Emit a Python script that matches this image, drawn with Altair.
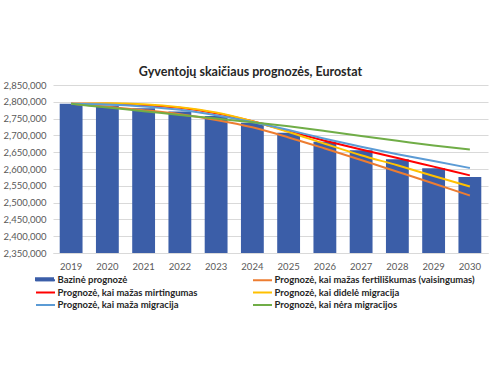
import altair as alt
import pandas as pd

years = [2019, 2020, 2021, 2022, 2023, 2024, 2025, 2026, 2027, 2028, 2029, 2030]

base = [2794000, 2789000, 2781000, 2771000, 2758000, 2738000, 2708000, 2681000, 2656000, 2629000, 2602000, 2576000]
low_fertility = [2794000, 2785000, 2775000, 2763000, 2746000, 2724000, 2694000, 2661000, 2627000, 2592000, 2557000, 2521000]
low_mortality = [2794000, 2794000, 2790000, 2782000, 2766000, 2742000, 2712000, 2684000, 2658000, 2633000, 2607000, 2581000]
high_migration = [2794000, 2796000, 2793000, 2784000, 2768000, 2742000, 2710000, 2675000, 2641000, 2611000, 2579000, 2548000]
low_migration = [2794000, 2792000, 2786000, 2776000, 2760000, 2740000, 2716000, 2690000, 2666000, 2644000, 2624000, 2603000]
no_migration = [2794000, 2783000, 2772000, 2761000, 2750000, 2739000, 2727000, 2713000, 2698000, 2684000, 2670000, 2658000]

series_names = [
    "Bazinė prognozė",
    "Prognozė, kai mažas fertiliškumas (vaisingumas)",
    "Prognozė, kai mažas mirtingumas",
    "Prognozė, kai didelė migracija",
    "Prognozė, kai maža migracija",
    "Prognozė, kai nėra migracijos",
]
colors = ["#3B5EA8", "#ED7D31", "#FF0000", "#FFC000", "#5B9BD5", "#70AD47"]
y_min = 2350000
y_max = 2850000
y_ticks = [2350000, 2400000, 2450000, 2500000, 2550000, 2600000, 2650000, 2700000, 2750000, 2800000, 2850000]

bars_df = pd.DataFrame({"year": years, "value": base, "series": series_names[0]})
line_series = [low_fertility, low_mortality, high_migration, low_migration, no_migration]
lines_df = pd.concat(
    [pd.DataFrame({"year": years, "value": vals, "series": name})
     for name, vals in zip(series_names[1:], line_series)],
    ignore_index=True,
)

FONT = "Lato"

common_legend = dict(
    title=None,
    orient="none",
    legendX=-13.5,
    legendY=189,
    direction="horizontal",
    columns=2,
    columnPadding=50,
    rowPadding=1.5,
    symbolSize=100,
    labelFont=FONT,
    labelFontSize=9.5,
    labelFontWeight="bold",
    labelColor="#262626",
    labelLimit=400,
    labelOffset=6,
)

fill_enc = alt.Fill(
    "series:N",
    scale=alt.Scale(domain=series_names[:1], range=colors[:1]),
    legend=alt.Legend(
        symbolType="M-1.9,-0.4H1.9V0.4H-1.9Z",
        symbolStrokeWidth=0,
        labelExpr="''",
        **common_legend,
    ),
)
stroke_enc = alt.Stroke(
    "series:N",
    scale=alt.Scale(domain=series_names, range=colors),
    legend=alt.Legend(
        symbolType="M-1.9,0H1.9",
        symbolStrokeWidth=2,
        symbolFillColor="transparent",
        **common_legend,
    ),
)

x = alt.X(
    "year:O",
    scale=alt.Scale(paddingInner=0.37, paddingOuter=0.185),
    axis=alt.Axis(
        title=None,
        labelAngle=0,
        labelFont=FONT,
        labelFontSize=9.5,
        labelColor="#595959",
        ticks=False,
        domainColor="#d9d9d9",
        labelPadding=8,
    ),
)
y = alt.Y(
    "value:Q",
    scale=alt.Scale(domain=[y_min, y_max], zero=False, nice=False),
    axis=alt.Axis(
        title=None,
        values=y_ticks,
        format=",d",
        labelFont=FONT,
        labelFontSize=9.5,
        labelColor="#595959",
        ticks=False,
        domain=False,
        gridColor="#d9d9d9",
        labelPadding=7,
    ),
)

bars = alt.Chart(bars_df).mark_bar(opacity=1).encode(
    x=x, y=y, y2=alt.datum(y_min), fill=fill_enc
)
lines = alt.Chart(lines_df).mark_line(strokeWidth=2, interpolate="monotone").encode(
    x=x, y=y, stroke=stroke_enc, order=alt.Order("year:O")
)

chart = (
    alt.layer(bars, lines)
    .properties(
        width=435,
        height=168,
        autosize=alt.AutoSizeParams(type="none"),
        padding={"left": 53, "top": 85, "right": 12, "bottom": 122},
        title=alt.TitleParams(
            "Gyventojų skaičiaus prognozės, Eurostat",
            font=FONT,
            fontSize=12.5,
            fontWeight="bold",
            color="#262626",
            anchor="middle",
            dx=-20,
            offset=2,
        ),
    )
    .configure_view(stroke=None)
)

chart.save("out.html", embed_options={"renderer": "svg", "actions": False})
